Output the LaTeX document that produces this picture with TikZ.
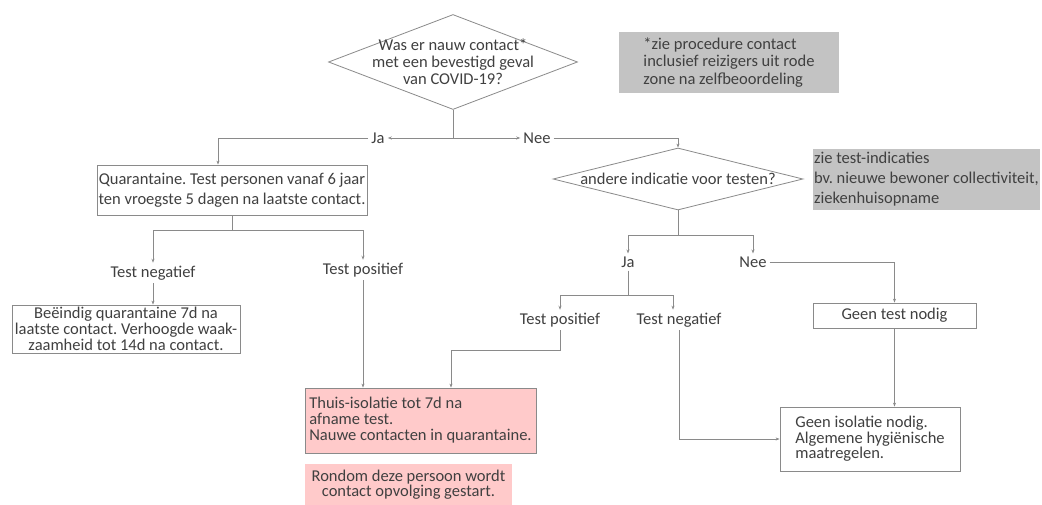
\documentclass[tikz,border=0pt]{standalone}
\usepackage{fontspec}
\setmainfont{Carlito}
\usetikzlibrary{shapes.geometric,arrows.meta}
\definecolor{txt}{HTML}{404040}
\definecolor{ln}{HTML}{8A8A8A}
\definecolor{notegray}{HTML}{C3C3C3}
\definecolor{pinkfill}{HTML}{FFCACA}
\frenchspacing
\begin{document}
\begin{tikzpicture}[x=1pt,y=-1pt,
  every node/.style={text=txt, font=\fontsize{16.5}{20}\selectfont},
  box/.style={draw=ln, line width=0.8pt, inner sep=0pt, align=center},
  note/.style={fill=notegray, inner sep=0pt, align=left},
  pinkbox/.style={fill=pinkfill, draw=ln, line width=0.8pt, inner sep=0pt, align=left},
  decision/.style={diamond, draw=ln, line width=0.8pt, inner sep=0pt},
  lbl/.style={inner sep=3pt},
  conn/.style={draw=ln, line width=0.8pt},
  arr/.style={conn, -{Stealth[length=4pt,width=3pt]}}
]
\useasboundingbox (0,0) rectangle (1042,505);
\fill[white] (0,0) rectangle (1042,505);

% decisions
\node[decision, minimum width=249pt, minimum height=95pt] (d1) at (453,62) {};
\node[align=center, font=\fontsize{16.5}{17}\selectfont] (d1t) at (d1.center) {Was er nauw contact*\\met een bevestigd geval\\van COVID-19?};
\node[decision, minimum width=250pt, minimum height=62pt] (d2) at (678,179) {};
\node (d2t) at (d2.center) {andere indicatie voor testen?};

% notes
\node[note, minimum width=220pt, minimum height=61pt, font=\fontsize{16.5}{17.5}\selectfont] (n1) at (729,62.5) {*zie procedure contact\\inclusief reizigers uit rode\\zone na zelfbeoordeling};
\node[note, minimum width=227pt, minimum height=61pt] (n2) at (926.5,179.5) {zie test-indicaties\\bv. nieuwe bewoner collectiviteit,\\ziekenhuisopname};

% boxes
\node[box, minimum width=270pt, minimum height=50pt] (q) at (232,190) {Quarantaine. Test personen vanaf 6 jaar\\ten vroegste 5 dagen na laatste contact.};
\node[box, minimum width=228pt, minimum height=48pt, font=\fontsize{16.5}{16}\selectfont] (e) at (126,329) {Beëindig quarantaine 7d na\\laatste contact. Verhoogde waak-\\zaamheid tot 14d na contact.};
\node[pinkbox, minimum width=231pt, minimum height=65pt, font=\fontsize{16.5}{16}\selectfont] (th) at (420.5,420.5) {Thuis-isolatie tot 7d na\\afname test.\\Nauwe contacten in quarantaine.};
\node[fill=pinkfill, inner sep=0pt, align=center, minimum width=207pt, minimum height=41pt, font=\fontsize{16.5}{15}\selectfont] (rd) at (408.5,484.5) {Rondom deze persoon wordt\\contact opvolging gestart.};
\node[box, minimum width=163pt, minimum height=25pt] (gt) at (894.5,315.5) {Geen test nodig};
\node[box, align=left, minimum width=180pt, minimum height=64pt, font=\fontsize{16.5}{15.5}\selectfont] (gi) at (870,439) {Geen isolatie nodig.\\Algemene hygiënische\\maatregelen.};

% labels
\node[lbl] (ja1) at (378,138) {Ja};
\node[lbl] (nee1) at (537,138) {Nee};
\node[lbl] (tn1) at (153,273) {Test negatief};
\node[lbl] (tp1) at (363,270) {Test positief};
\node[lbl] (ja2) at (628,262) {Ja};
\node[lbl] (nee2) at (753,262) {Nee};
\node[lbl] (tp2) at (560,320) {Test positief};
\node[lbl] (tn2) at (679,320) {Test negatief};

% connectors
\coordinate (j1) at (453,138);
\draw[conn] (d1.south) -- (j1);
\draw[arr] (j1) -- (ja1.east);
\draw[arr] (j1) -- (nee1.west);
\draw[arr] (ja1.west) -| ([xshift=-14pt]q.north);
\draw[arr] (nee1.east) -| (d2.north);

\coordinate (j2) at (232,230);
\draw[conn] (q.south) -- (j2);
\draw[arr] (j2) -| (tn1.north);
\draw[arr] (j2) -| (tp1.north);
\draw[arr] (tn1.south) -- (tn1.south |- e.north);
\draw[arr] (tp1.south) -- (tp1.south |- th.north);

\coordinate (j3) at (678,235);
\draw[conn] (d2.south) -- (j3);
\draw[arr] (j3) -| (ja2.north);
\draw[arr] (j3) -| (nee2.north);
\draw[arr] (nee2.east) -| (gt.north);
\draw[arr] (gt.south) -- (gt.south |- gi.north);

\coordinate (j4) at (628,295);
\draw[conn] (ja2.south) -- (j4);
\draw[arr] (j4) -| (tp2.north);
\draw[arr] (j4) -| ([xshift=-6pt]tn2.north);
\coordinate (k2) at (451,350);
\draw[arr] (tp2.south) |- (k2) -- (k2 |- th.north);
\draw[arr] (tn2.south) |- (gi.west);
\end{tikzpicture}
\end{document}
